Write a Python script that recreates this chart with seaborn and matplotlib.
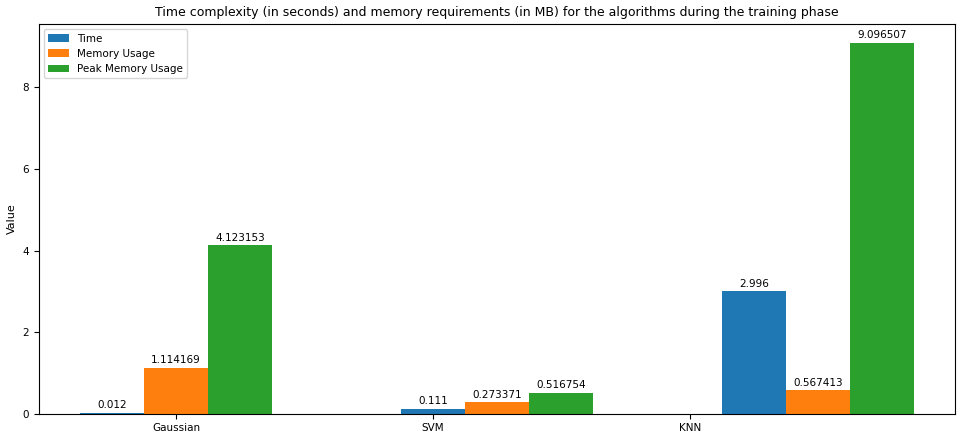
import pandas as pd
import matplotlib
matplotlib.use("Agg")
import matplotlib.pyplot as plt
import seaborn as sns

algorithms = ["Gaussian", "SVM", "KNN"]
metrics = ["Time", "Memory Usage", "Peak Memory Usage"]
time_vals = [0.012, 0.111, 2.996]
memory_vals = [1.114169, 0.273371, 0.567413]
peak_vals = [4.123153, 0.516754, 9.096507]

df = pd.DataFrame({
    "Algorithm": algorithms * 3,
    "Metric": [m for m in metrics for _ in algorithms],
    "Value": time_vals + memory_vals + peak_vals,
})

fig, ax = plt.subplots(figsize=(9.7, 4.4), dpi=100)
sns.barplot(data=df, x="Algorithm", y="Value", hue="Metric", order=algorithms,
            hue_order=metrics, palette=["#1f77b4", "#ff7f0e", "#2ca02c"],
            width=0.6, saturation=1, ax=ax)

for cont, vals in zip(ax.containers, [time_vals, memory_vals, peak_vals]):
    ax.bar_label(cont, labels=[str(v) for v in vals], padding=2, fontsize=7.5)

# original chart's tick labels sit off the group centres
ax.set_xticks([0, 0.8, 1.6])
ax.set_xticklabels(algorithms)
ax.set_xlim(-0.428, 2.428)
ax.set_ylim(0, 9.55)
ax.set_xlabel("")
ax.set_ylabel("Value", fontsize=8)
ax.tick_params(labelsize=7.5)
ax.set_title("Time complexity (in seconds) and memory requirements (in MB) for the algorithms during the training phase",
             fontsize=9)
ax.legend(loc="upper left", fontsize=7.5, title=None)
fig.subplots_adjust(left=0.04, right=0.985, top=0.945, bottom=0.06)
fig.savefig("out.png")
